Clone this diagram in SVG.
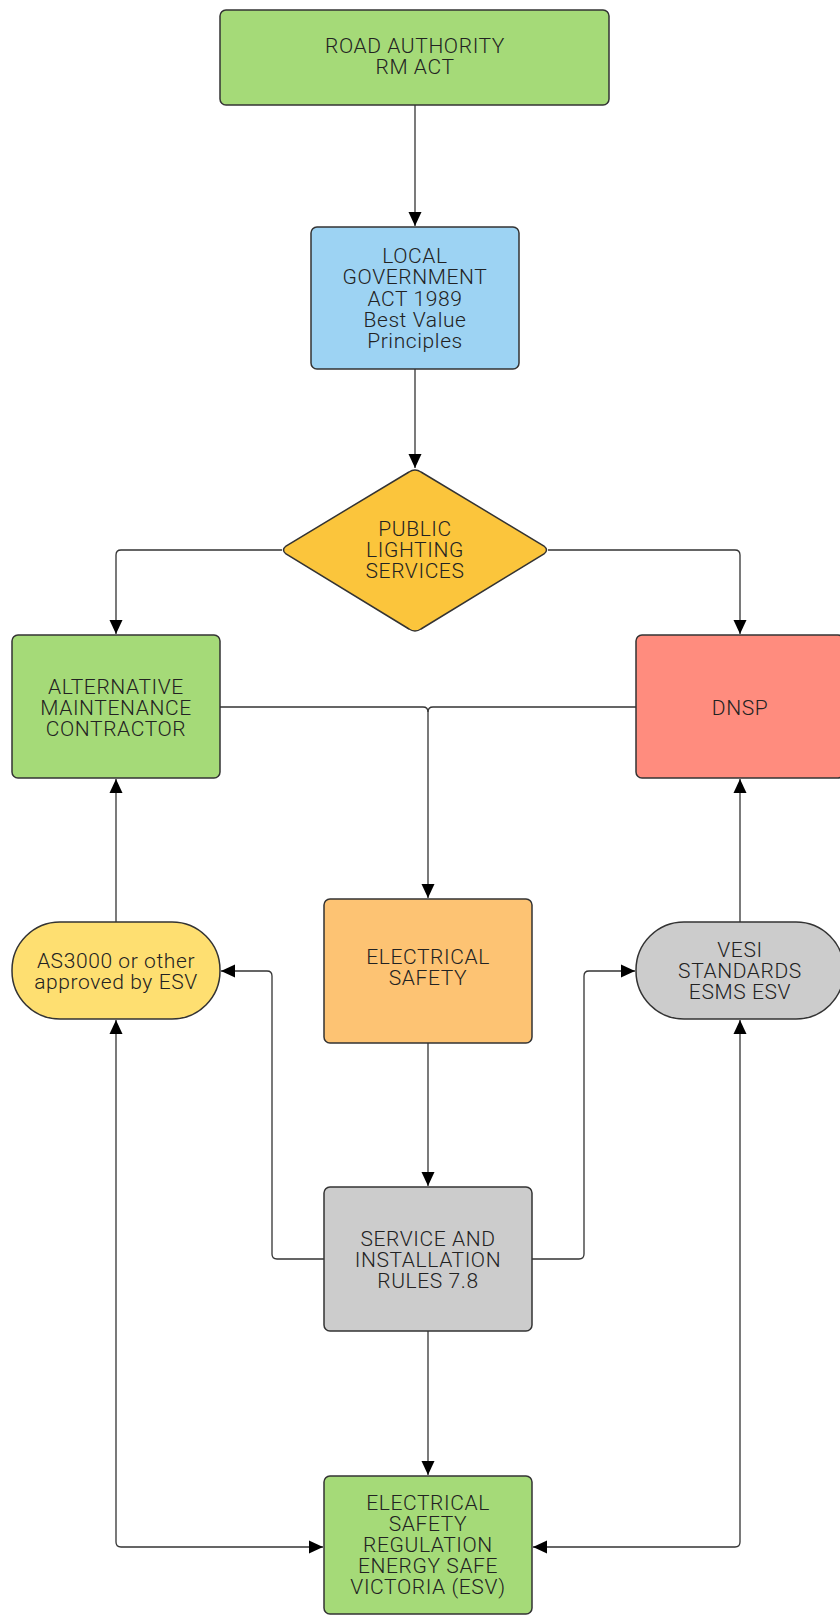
<svg xmlns="http://www.w3.org/2000/svg" width="840" height="1616" viewBox="0 0 840 1616">
<style>
.n{stroke:#333;stroke-width:1.5}
.t{font-family:Roboto,"Liberation Sans",sans-serif;font-size:21px;font-weight:300;letter-spacing:0.6px;fill:#222;text-anchor:middle}
.c{fill:none;stroke:#333;stroke-width:1.3}
</style>
<defs>
<marker id="a" markerUnits="userSpaceOnUse" markerWidth="16" markerHeight="16" refX="14" refY="7" orient="auto-start-reverse"><path d="M0,0.5 L14,7 L0,13.5 Z" fill="#000"/></marker>
</defs>
<g id="connectors">
<path class="c" d="M415,105 V226" marker-end="url(#a)"/>
<path class="c" d="M415,369 V468" marker-end="url(#a)"/>
<path class="c" d="M282,550 H121 Q116,550 116,555 V634" marker-end="url(#a)"/>
<path class="c" d="M548,550 H735 Q740,550 740,555 V634" marker-end="url(#a)"/>
<path class="c" d="M220,707 H423 Q428,707 428,712 V898" marker-end="url(#a)"/>
<path class="c" d="M636,707 H433 Q428,707 428,712"/>
<path class="c" d="M116,922 V779" marker-end="url(#a)"/>
<path class="c" d="M740,922 V779" marker-end="url(#a)"/>
<path class="c" d="M428,1043 V1186" marker-end="url(#a)"/>
<path class="c" d="M324,1259 H277 Q272,1259 272,1254 V976 Q272,971 267,971 H221" marker-end="url(#a)"/>
<path class="c" d="M532,1259 H579 Q584,1259 584,1254 V976 Q584,971 589,971 H635" marker-end="url(#a)"/>
<path class="c" d="M428,1331 V1475" marker-end="url(#a)"/>
<path class="c" d="M116,1020 V1542 Q116,1547 121,1547 H323" marker-start="url(#a)" marker-end="url(#a)"/>
<path class="c" d="M740,1020 V1542 Q740,1547 735,1547 H533" marker-start="url(#a)" marker-end="url(#a)"/>
</g>
<g id="road-authority">
<rect class="n" x="220" y="10" width="389" height="95" rx="6" fill="#A5DA78"/>
<text class="t" x="415" y="53">ROAD AUTHORITY</text>
<text class="t" x="415" y="74">RM ACT</text>
</g>
<g id="local-government">
<rect class="n" x="311" y="227" width="208" height="142" rx="6" fill="#9DD3F3"/>
<text class="t" x="415" y="263">LOCAL</text>
<text class="t" x="415" y="284">GOVERNMENT</text>
<text class="t" x="415" y="306">ACT 1989</text>
<text class="t" x="415" y="327">Best Value</text>
<text class="t" x="415" y="348">Principles</text>
</g>
<g id="public-lighting">
<path class="n" d="M409,472 Q415,468 421,472 L544,546 Q549,550 544,554 L421,629 Q415,633 409,629 L286,554 Q281,550 286,546 Z" fill="#FBC53C"/>
<text class="t" x="415" y="536">PUBLIC</text>
<text class="t" x="415" y="557">LIGHTING</text>
<text class="t" x="415" y="578">SERVICES</text>
</g>
<g id="alternative-maintenance">
<rect class="n" x="12" y="635" width="208" height="143" rx="6" fill="#A5DA78"/>
<text class="t" x="116" y="694">ALTERNATIVE</text>
<text class="t" x="116" y="715">MAINTENANCE</text>
<text class="t" x="116" y="736">CONTRACTOR</text>
</g>
<g id="dnsp">
<rect class="n" x="636" y="635" width="208" height="143" rx="6" fill="#FF8C7E"/>
<text class="t" x="740" y="715">DNSP</text>
</g>
<g id="electrical-safety">
<rect class="n" x="324" y="899" width="208" height="144" rx="6" fill="#FDC373"/>
<text class="t" x="428" y="964">ELECTRICAL</text>
<text class="t" x="428" y="985">SAFETY</text>
</g>
<g id="as3000">
<rect class="n" x="12" y="922" width="208" height="97" rx="48" fill="#FEDF71"/>
<text class="t" x="116" y="968">AS3000 or other</text>
<text class="t" x="116" y="989">approved by ESV</text>
</g>
<g id="vesi">
<rect class="n" x="636" y="922" width="208" height="97" rx="48" fill="#CCCCCC"/>
<text class="t" x="740" y="957">VESI</text>
<text class="t" x="740" y="978">STANDARDS</text>
<text class="t" x="740" y="999">ESMS ESV</text>
</g>
<g id="service-rules">
<rect class="n" x="324" y="1187" width="208" height="144" rx="6" fill="#CCCCCC"/>
<text class="t" x="428" y="1246">SERVICE AND</text>
<text class="t" x="428" y="1267">INSTALLATION</text>
<text class="t" x="428" y="1288">RULES 7.8</text>
</g>
<g id="esr">
<rect class="n" x="324" y="1476" width="208" height="138" rx="6" fill="#A5DA78"/>
<text class="t" x="428" y="1510">ELECTRICAL</text>
<text class="t" x="428" y="1531">SAFETY</text>
<text class="t" x="428" y="1552">REGULATION</text>
<text class="t" x="428" y="1573">ENERGY SAFE</text>
<text class="t" x="428" y="1594">VICTORIA (ESV)</text>
</g>
</svg>
